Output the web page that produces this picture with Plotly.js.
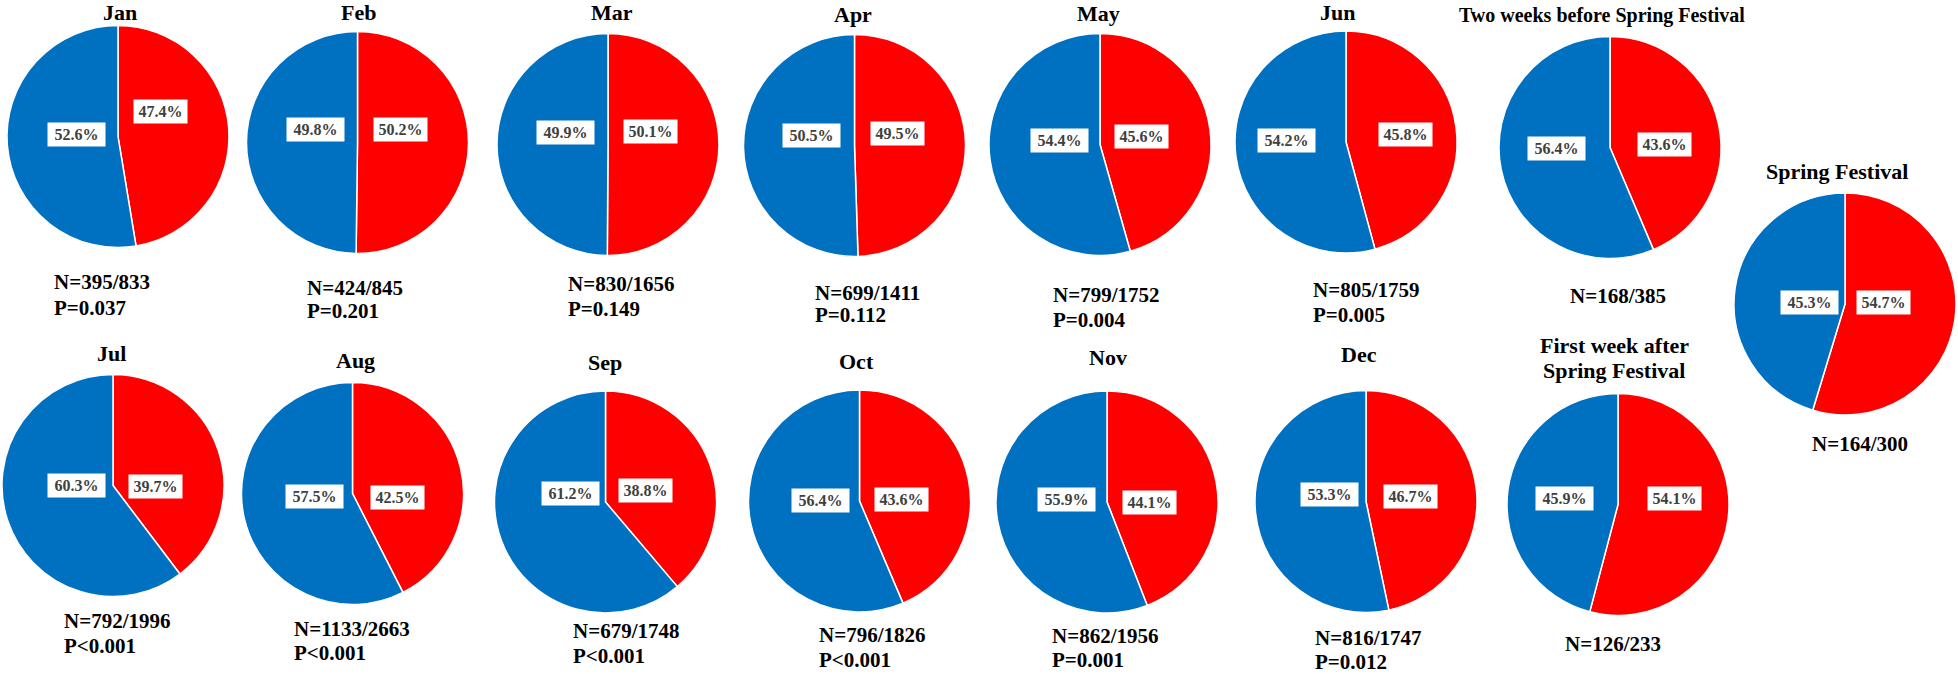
<!DOCTYPE html>
<html>
<head>
<meta charset="utf-8">
<script src="https://cdn.plot.ly/plotly-3.0.1.min.js"></script>
<style>html,body{margin:0;padding:0;background:#fff;}#chart{width:1958px;height:674px;}</style>
</head>
<body>
<div id="chart"></div>
<script>
// ---------------- DATA ----------------
const panelNames = ['Jan','Feb','Mar','Apr','May','Jun','Two weeks before Spring Festival','Spring Festival',
  'Jul','Aug','Sep','Oct','Nov','Dec','First week after Spring Festival'];
const bluePct = [52.6, 49.8, 49.9, 50.5, 54.4, 54.2, 56.4, 45.3, 60.3, 57.5, 61.2, 56.4, 55.9, 53.3, 45.9];
const redPct  = [47.4, 50.2, 50.1, 49.5, 45.6, 45.8, 43.6, 54.7, 39.7, 42.5, 38.8, 43.6, 44.1, 46.7, 54.1];
const nText = ['N=395/833','N=424/845','N=830/1656','N=699/1411','N=799/1752','N=805/1759','N=168/385','N=164/300',
  'N=792/1996','N=1133/2663','N=679/1748','N=796/1826','N=862/1956','N=816/1747','N=126/233'];
const pText = ['P=0.037','P=0.201','P=0.149','P=0.112','P=0.004','P=0.005','','',
  'P<0.001','P<0.001','P<0.001','P<0.001','P=0.001','P=0.012',''];
const titleLines = [['Jan'],['Feb'],['Mar'],['Apr'],['May'],['Jun'],['Two weeks before Spring Festival'],['Spring Festival'],
  ['Jul'],['Aug'],['Sep'],['Oct'],['Nov'],['Dec'],['First week after','Spring Festival']];

// ---------------- LAYOUT (pixel positions in the 1958x674 canvas) ----------------
const W = 1958, H = 674, R = 111;
const pieCenter = [[118,136.5],[357.5,142.5],[608,144.5],[854.5,145.5],[1100,144.5],[1346,142],[1610,147.5],[1845,304],
  [113,485.5],[352.5,493.5],[605.5,502],[859.5,501],[1107,502],[1366,501.5],[1618,504.5]];
const titlePos = [[120,12.5],[358,12.5],[612,12.5],[853,14],[1098,13],[1337,12.5],[1602,15],[1837,172],
  [111,353.5],[355,360.5],[605,362.5],[856,361.5],[1108,357.5],[1359,354.5],[1614,345]];
const titleSize = [22,22,22,22,22,22,20,22,22,22,22,22,22,22,22];
// N/P text: [x, yN, yP, anchor]
const npPos = [[53,282.5,307.5,'left'],[306,287.5,310.5,'left'],[567,284.5,309.5,'left'],[814,292.5,315.5,'left'],
  [1052,295,320,'left'],[1312,290.5,315.5,'left'],[1618,295.5,0,'center'],[1860,443.5,0,'center'],
  [63,621,646,'left'],[293,628.5,653,'left'],[572,630.5,655.5,'left'],[818,634.5,659.5,'left'],
  [1051,635.5,659.5,'left'],[1314,638,661.5,'left'],[1613,644,0,'center']];
// label box offsets from pie centre: [blue dx, blue dy, red dx, red dy]
const labelOff = [[-41.5,-2,42,-24.5],[-42.5,-13.5,42.5,-13.5],[-43,-12.5,42.5,-13],[-43,-10,42.5,-12],
  [-41,-4.5,41,-7.5],[-60,-1.5,59,-7],[-54,1,54.5,-3.5],[-36,-1,38,-1],
  [-37,0,42,0.5],[-38.5,3,44.5,3.5],[-35.5,-9,40,-12],[-39.5,-0.5,42,-2],
  [-41,-2.5,42,0],[-37,-7.5,44.5,-5],[-54,-6,56,-6.5]];

const BLUE = '#0070C0', RED = '#FF0000';
const FONT = '"Liberation Serif", "Times New Roman", Times, serif';
const px = x => x / W;
const py = y => 1 - y / H;

const traces = [];
const annotations = [];

panelNames.forEach((name, i) => {
  const [cx, cy] = pieCenter[i];
  // Plotly places the first slice clockwise of 12 o'clock, the rest continue counterclockwise:
  // red first (right side), blue second (left side).
  traces.push({
    type: 'pie',
    name: name,
    labels: ['red', 'blue'],
    values: [redPct[i], bluePct[i]],
    sort: false,
    direction: 'counterclockwise',
    rotation: 0,
    textinfo: 'none',
    hoverinfo: 'label+percent',
    marker: { colors: [RED, BLUE], line: { color: '#ffffff', width: 1.5 } },
    domain: { x: [px(cx - R), px(cx + R)], y: [py(cy + R), py(cy - R)] },
    showlegend: false
  });

  // titles
  titleLines[i].forEach((line, k) => {
    annotations.push({
      xref: 'paper', yref: 'paper', x: px(titlePos[i][0]), y: py(titlePos[i][1] + k * 25.5),
      xanchor: 'center', yanchor: 'middle', showarrow: false, borderpad: 0,
      text: '<b>' + line + '</b>',
      font: { family: FONT, size: titleSize[i], color: '#000' }
    });
  });

  // N / P
  const [nx, ny, pyy, anc] = npPos[i];
  annotations.push({
    xref: 'paper', yref: 'paper', x: px(nx), y: py(ny), xanchor: anc, yanchor: 'middle', showarrow: false,
    align: anc === 'left' ? 'left' : 'center',
    text: '<b>' + nText[i] + '</b>', font: { family: FONT, size: 21, color: '#000' }, borderpad: 0
  });
  if (pText[i]) {
    annotations.push({
      xref: 'paper', yref: 'paper', x: px(nx), y: py(pyy), xanchor: anc, yanchor: 'middle', showarrow: false,
      align: 'left',
      text: '<b>' + pText[i].replace('<', '&lt;') + '</b>', font: { family: FONT, size: 21, color: '#000' }, borderpad: 0
    });
  }

  // percentage labels in white boxes
  const off = labelOff[i];
  [[bluePct[i], off[0], off[1], 57], [redPct[i], off[2], off[3], 53]].forEach(([v, dx, dy, w]) => {
    annotations.push({
      xref: 'paper', yref: 'paper', x: px(cx + dx), y: py(cy + dy), xanchor: 'center', yanchor: 'middle',
      showarrow: false, text: '<b>' + v.toFixed(1) + '%</b>',
      font: { family: FONT, size: 16, color: '#404040' },
      bgcolor: '#ffffff', width: w, height: 23, borderpad: 0
    });
  });
});

const layout = {
  width: W, height: H,
  margin: { l: 0, r: 0, t: 0, b: 0 },
  paper_bgcolor: '#ffffff',
  plot_bgcolor: '#ffffff',
  showlegend: false,
  annotations: annotations
};

Plotly.newPlot('chart', traces, layout, { staticPlot: true, displayModeBar: false });
</script>
</body>
</html>
